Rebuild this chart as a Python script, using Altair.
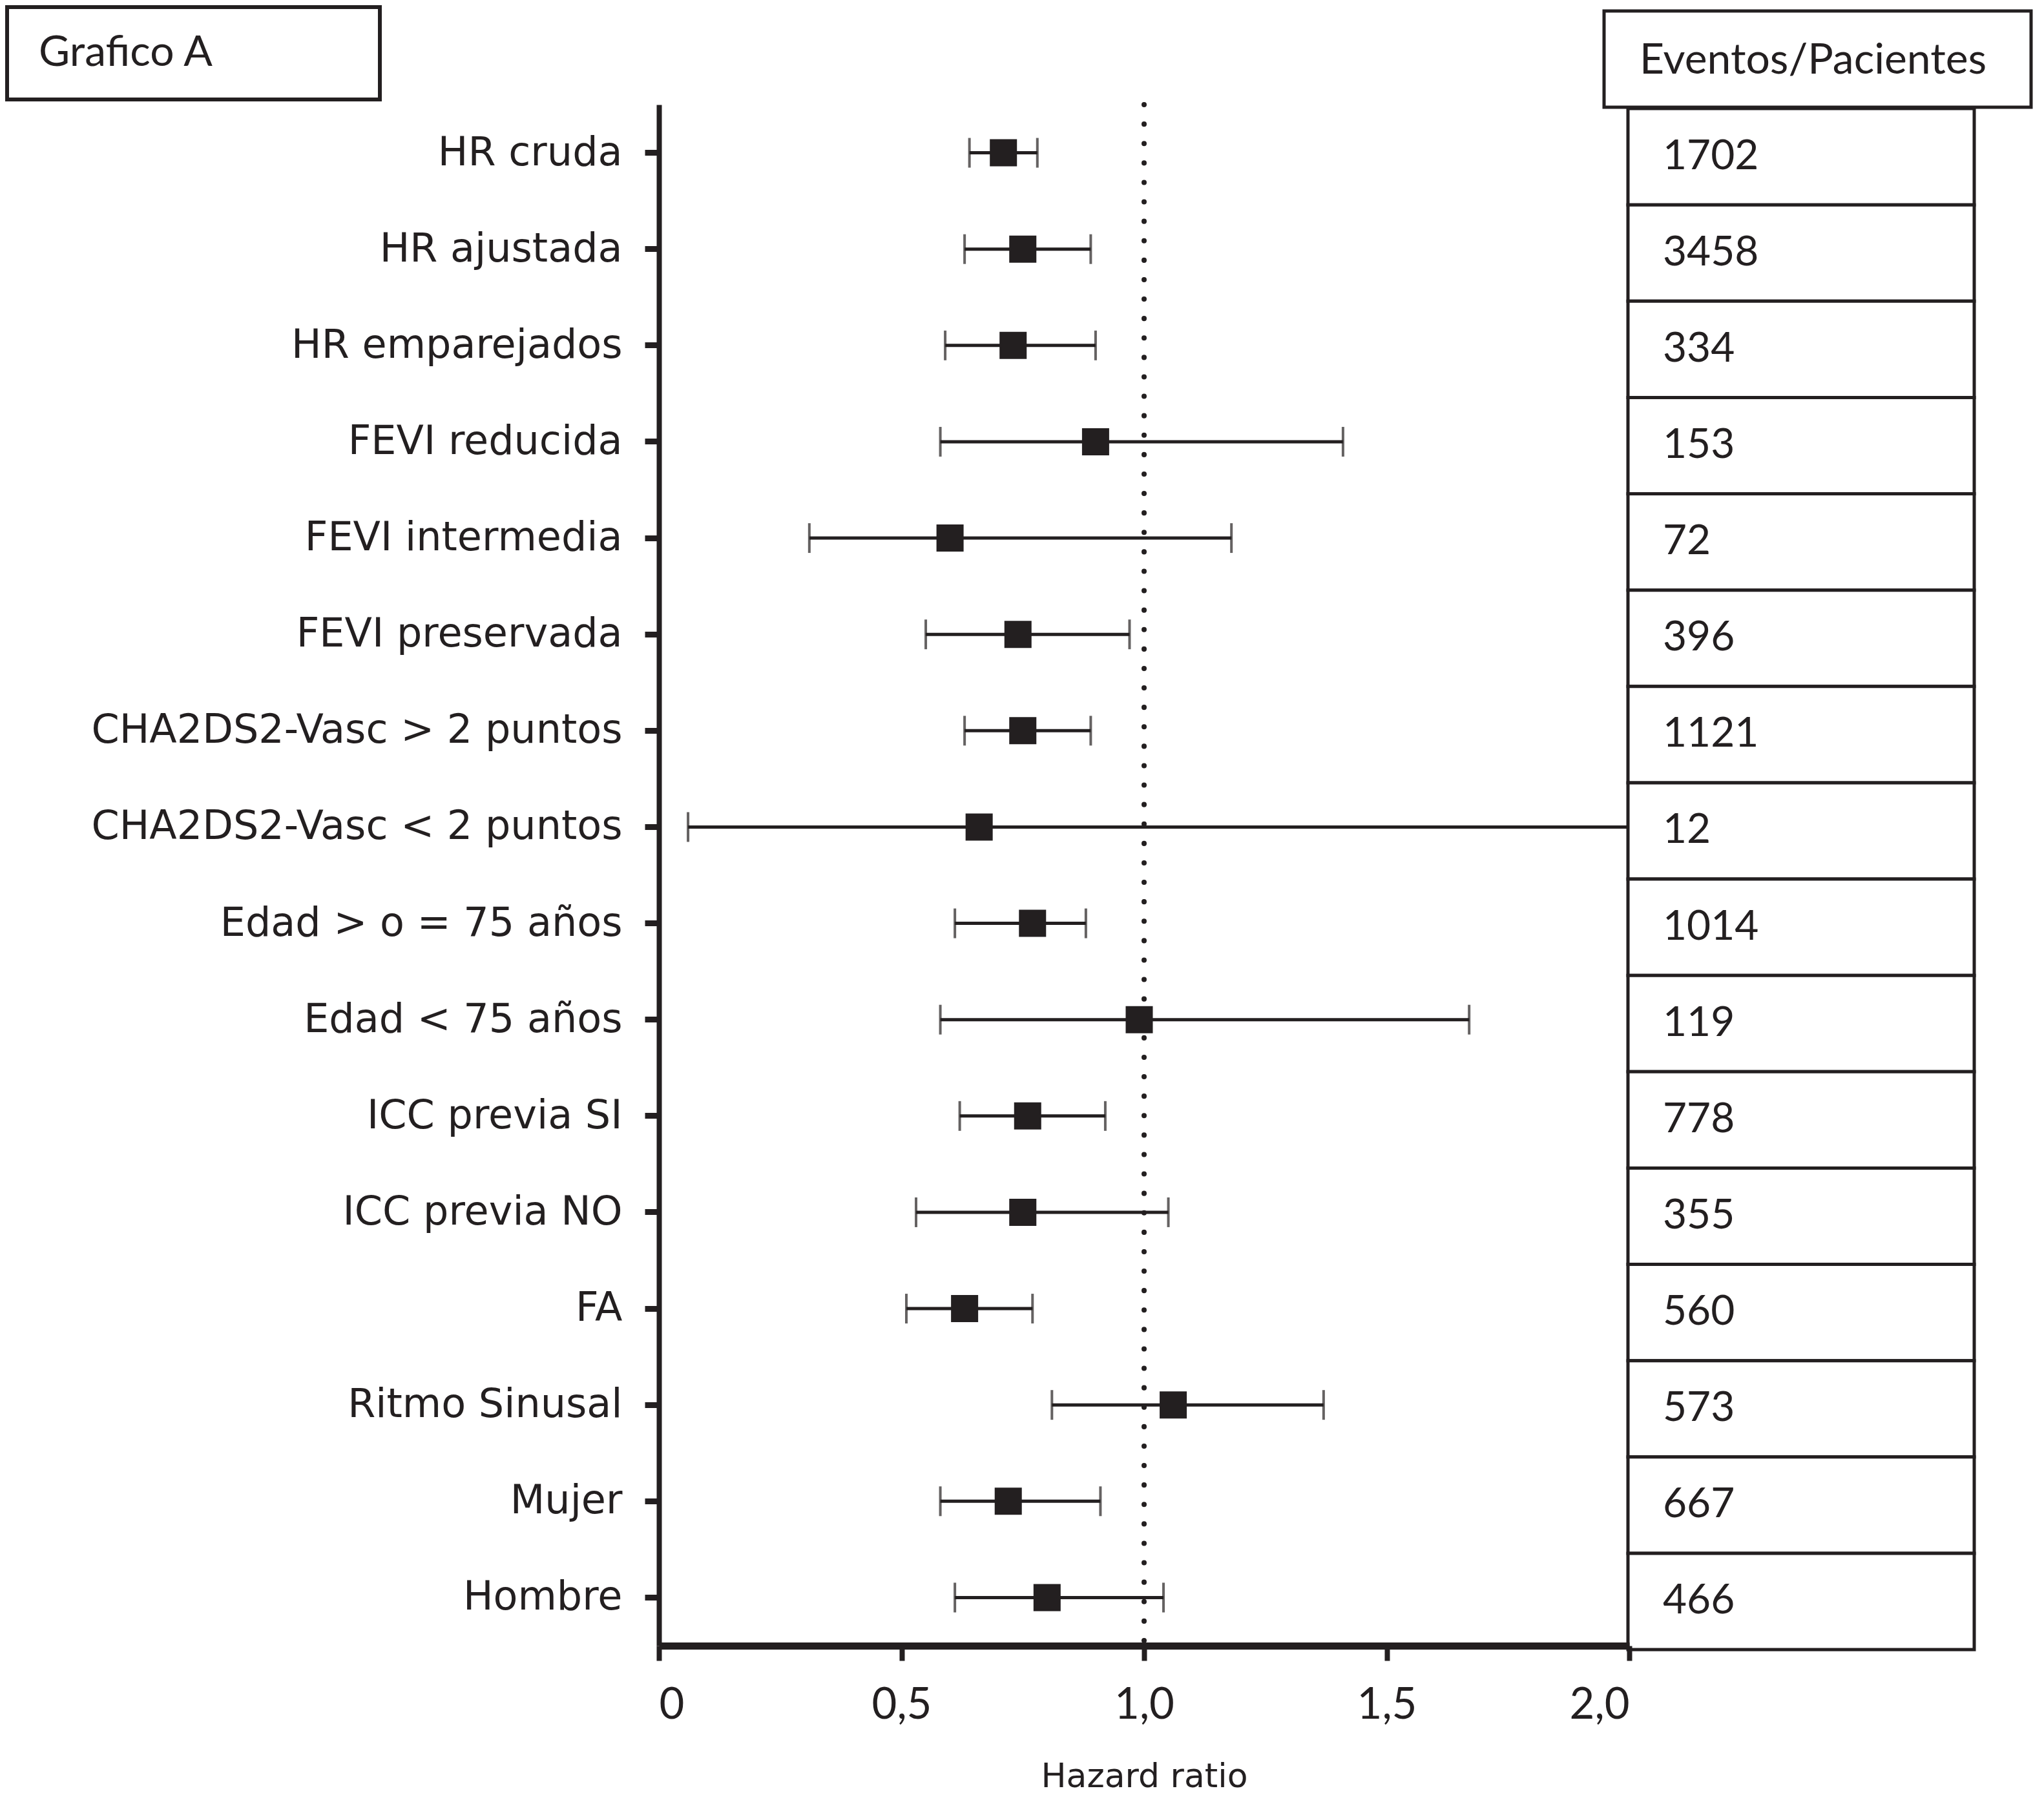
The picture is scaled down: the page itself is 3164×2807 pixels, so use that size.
import altair as alt
import pandas as pd

labels = ["HR cruda", "HR ajustada", "HR emparejados", "FEVI reducida",
          "FEVI intermedia", "FEVI preservada", "CHA2DS2-Vasc > 2 puntos",
          "CHA2DS2-Vasc < 2 puntos", "Edad > o = 75 años", "Edad < 75 años",
          "ICC previa SI", "ICC previa NO", "FA", "Ritmo Sinusal", "Mujer", "Hombre"]
hr = [0.71, 0.75, 0.73, 0.90, 0.60, 0.74, 0.75, 0.66, 0.77, 0.99, 0.76, 0.75, 0.63, 1.06, 0.72, 0.80]
lo = [0.64, 0.63, 0.59, 0.58, 0.31, 0.55, 0.63, 0.06, 0.61, 0.58, 0.62, 0.53, 0.51, 0.81, 0.58, 0.61]
hi = [0.78, 0.89, 0.90, 1.41, 1.18, 0.97, 0.89, 2.00, 0.88, 1.67, 0.92, 1.05, 0.77, 1.37, 0.91, 1.04]
eventos = [1702, 3458, 334, 153, 72, 396, 1121, 12, 1014, 119, 778, 355, 560, 573, 667, 466]
x_ticks = [0, 0.5, 1.0, 1.5, 2.0]

INK = "#231f20"

df = pd.DataFrame({"label": labels, "hr": hr, "lo": lo, "hi": hi,
                   "n": [str(v) for v in eventos]})

yscale = alt.Scale(type="band", domain=labels, paddingInner=0, paddingOuter=0)
yaxis = alt.Axis(title=None, domainColor=INK, domainWidth=8, tickColor=INK,
                 tickWidth=9, tickSize=22, labelFont="DejaVu Sans", labelFontSize=62,
                 labelColor=INK, labelPadding=35, labelLimit=2000)
Y = alt.Y("label:N", sort=labels, scale=yscale, axis=yaxis)

xscale = alt.Scale(domain=[0, 2], nice=False, zero=True)
xaxis = alt.Axis(title="Hazard ratio", values=x_ticks, grid=False,
                 labelExpr="datum.value == 0 ? '0' : replace(format(datum.value, '.1f'), '.', ',')",
                 domainColor=INK, domainWidth=11, tickColor=INK, tickWidth=8, tickSize=23,
                 labelFont="Lato", labelFontSize=67, labelColor=INK, labelPadding=36,
                 titleFont="DejaVu Sans", titleFontSize=52, titleFontWeight="normal",
                 titleColor=INK, titlePadding=52, zindex=1)

base = alt.Chart(df)

ref = alt.Chart(pd.DataFrame({"ref": [1.0]})).mark_rule(
    color=INK, strokeWidth=8, strokeCap="round", strokeDash=[0.1, 30]
).encode(x=alt.X("ref:Q", scale=xscale, axis=xaxis))

bars = base.mark_rule(color=INK, strokeWidth=5).encode(
    x=alt.X("lo:Q", scale=xscale, axis=xaxis), x2="hi:Q", y=Y)

cap_lo = base.mark_tick(color=INK, size=46, thickness=4).encode(
    x=alt.X("lo:Q", scale=xscale), y=Y)
cap_hi = base.transform_filter("datum.hi < 2").mark_tick(
    color=INK, size=46, thickness=4).encode(x=alt.X("hi:Q", scale=xscale), y=Y)

pts = base.mark_square(color=INK, size=1764, opacity=1).encode(
    x=alt.X("hr:Q", scale=xscale), y=Y)

boxes = base.mark_rect(fill="white", stroke=INK, strokeWidth=5, yOffset=6).encode(
    x=alt.value(1500), x2=alt.value(2036), y=Y)
nums = base.mark_text(align="left", baseline="middle", font="Lato", fontSize=64,
                      color=INK, yOffset=6).encode(
    x=alt.value(1554), y=Y, text="n:N")

one = pd.DataFrame({"t": ["Eventos/Pacientes"]})
head_box = alt.Chart(one).mark_rect(fill="white", stroke=INK, strokeWidth=5).encode(
    x=alt.value(1463), x2=alt.value(2124), y=alt.value(-145), y2=alt.value(4))
head_txt = alt.Chart(one).mark_text(align="left", baseline="middle", font="Lato",
                                    fontSize=66, color=INK).encode(
    x=alt.value(1518), y=alt.value(-68), text="t:N")

two = pd.DataFrame({"t": ["Grafico A"]})
title_box = alt.Chart(two).mark_rect(fill="white", stroke=INK, strokeWidth=6).encode(
    x=alt.value(-1009), x2=alt.value(-432), y=alt.value(-151), y2=alt.value(-8))
title_txt = alt.Chart(two).mark_text(align="left", baseline="middle", font="Lato",
                                     fontSize=66, color=INK).encode(
    x=alt.value(-960), y=alt.value(-80), text="t:N")

chart = alt.layer(
    ref, bars, cap_lo, cap_hi, pts, boxes, nums, head_box, head_txt, title_box, title_txt
).properties(
    width=1502, height=2386,
    padding={"left": 0, "top": 0, "right": 0, "bottom": 16},
    background="white"
).configure_view(stroke=None)

chart.save("out.html", embed_options={"renderer": "svg", "actions": False})
